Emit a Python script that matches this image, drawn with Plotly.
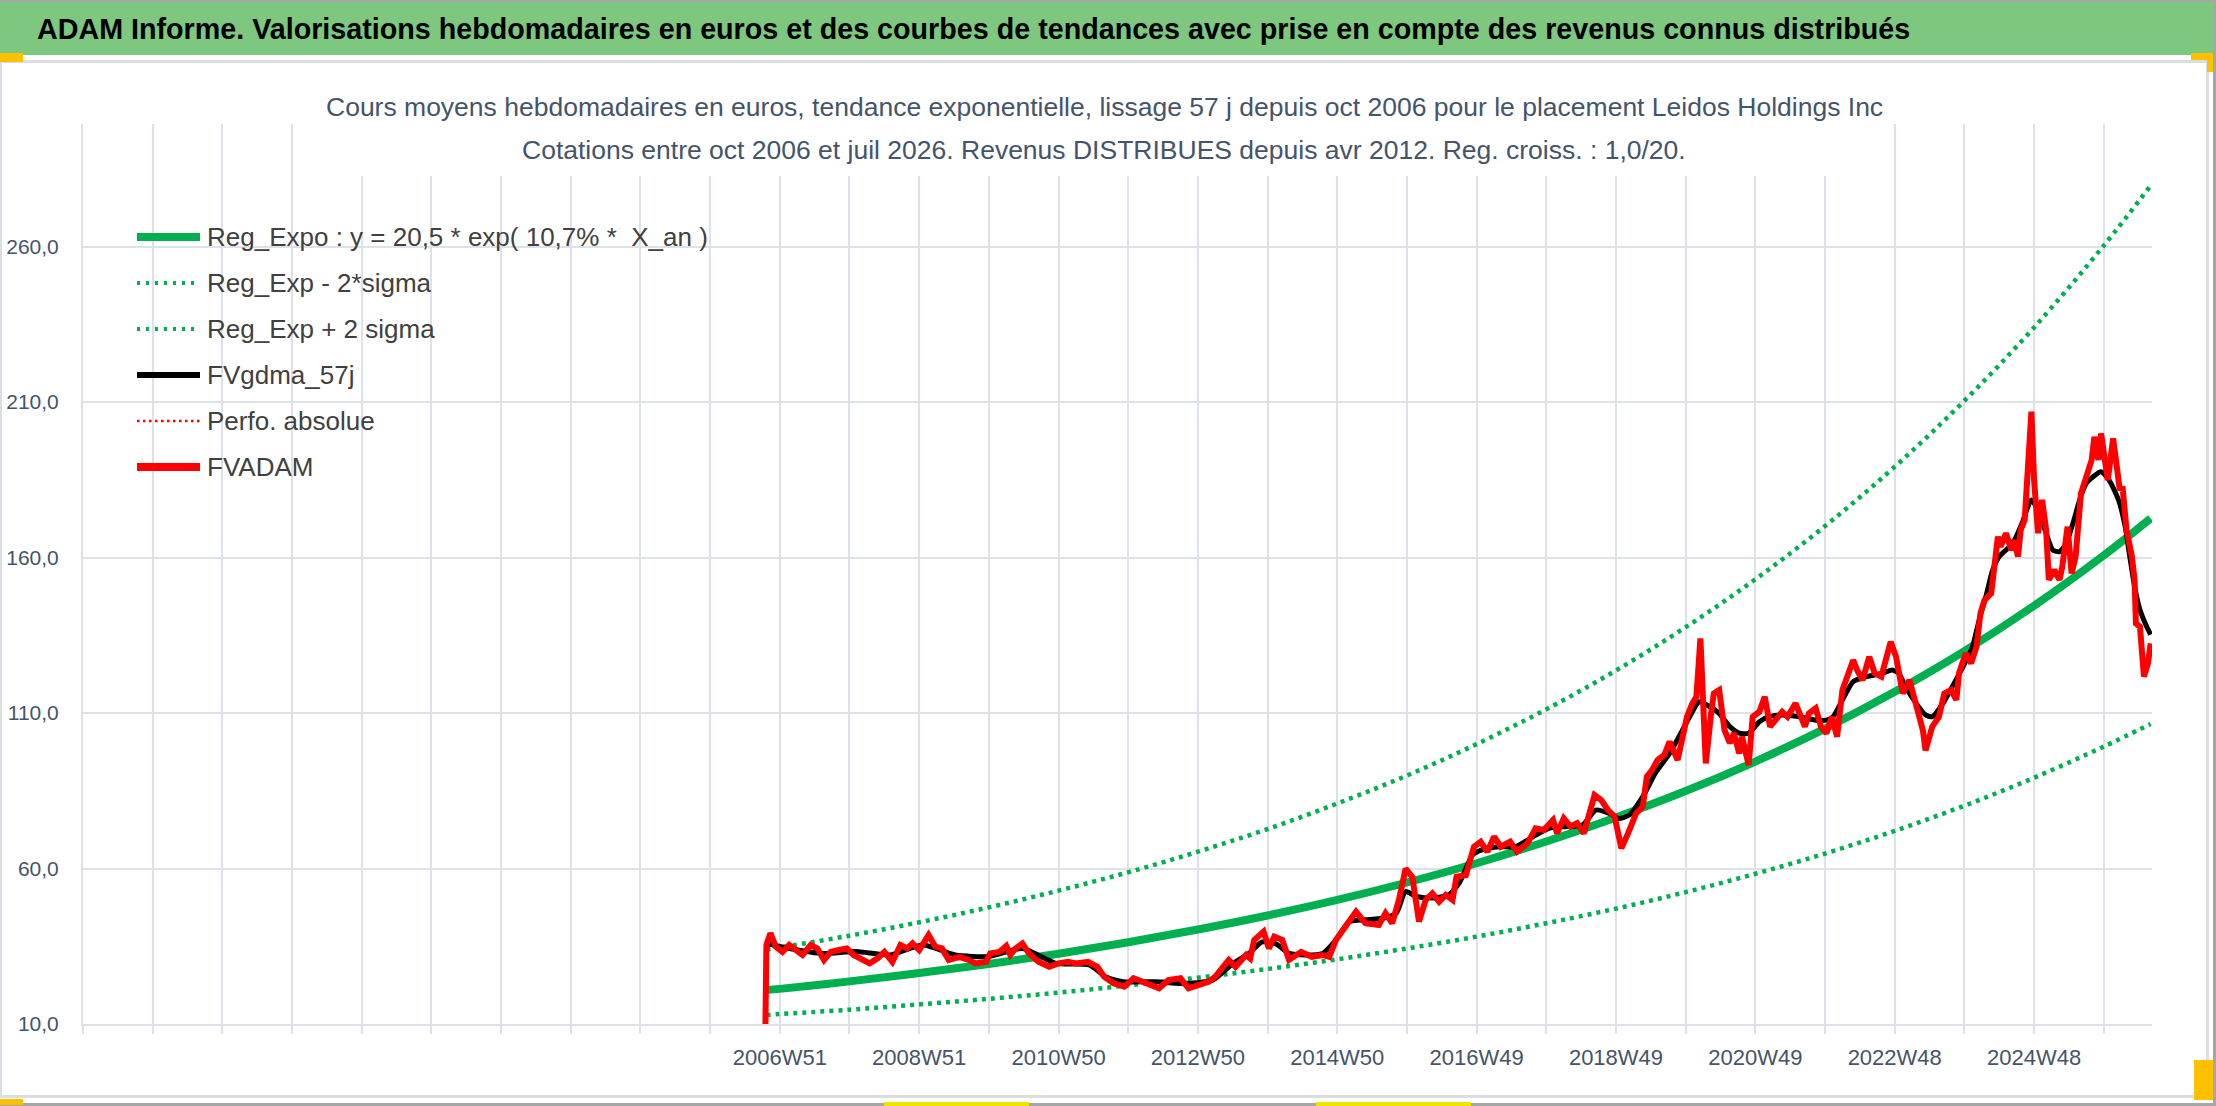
import plotly.graph_objects as go

# x axis = week index, 0 is the week labelled 2006W51 (one gridline every 52 weeks)
x_tick_labels = ["2006W51", "2008W51", "2010W50", "2012W50", "2014W50",
                 "2016W49", "2018W49", "2020W49", "2022W48", "2024W48"]

# FVADAM (red)
fvadam_weeks = [-11, -10, -7, -3, 2, 7, 12, 17, 23, 28, 33, 38, 44, 50, 55, 60, 67, 73, 78, 84,
                90, 95, 99, 104, 111, 116, 121, 126, 134, 141, 146, 154, 157, 164, 169, 172, 176, 181, 186, 193,
                201, 208, 215, 221, 230, 237, 242, 249, 257, 264, 273, 283, 290, 299, 305, 314, 320, 325, 330, 335,
                340, 348, 351, 354, 361, 365, 369, 375, 380, 389, 397, 405, 410, 415, 422, 430, 437, 447, 452, 457,
                462, 467, 472, 477, 482, 487, 492, 497, 502, 505, 512, 518, 523, 528, 533, 538, 545, 550, 558, 564,
                570, 577, 580, 585, 590, 595, 600, 608, 613, 618, 623, 628, 633, 639, 644, 647, 651, 655, 660, 664,
                670, 674, 677, 681, 684, 687, 691, 695, 697, 701, 705, 709, 712, 716, 718, 723, 726, 731, 735, 739,
                743, 748, 752, 758, 761, 765, 768, 773, 777, 781, 785, 789, 793, 797, 801, 804, 808, 813, 817, 822,
                825, 829, 833, 838, 843, 848, 853, 855, 860, 865, 869, 874, 878, 880, 885, 889, 893, 896, 899, 904,
                906, 909, 911, 915, 919, 921, 924, 926, 929, 931, 934, 936, 939, 942, 945, 947, 951, 955, 957, 961,
                964, 967, 971, 975, 979, 981, 984, 986, 989, 991, 995, 997, 1000, 1002, 1005, 1009, 1011, 1012, 1015, 1018,
                1021, 1023]
fvadam_values = [0.0, 35.4, 39.2, 34.9, 33.2, 35.4, 33.8, 32.2, 35.4, 34.3, 30.6, 33.2, 33.8, 34.3, 32.2, 31.1, 29.5, 31.1, 33.2, 30.0,
                 35.4, 34.3, 35.9, 33.8, 38.6, 34.9, 34.3, 30.6, 31.6, 30.6, 29.5, 30.0, 32.7, 33.2, 35.1, 32.2, 34.3, 35.9, 32.7, 30.0,
                 28.4, 29.5, 30.0, 29.5, 30.0, 28.4, 25.2, 23.1, 22.0, 24.7, 23.1, 21.5, 24.1, 24.7, 21.5, 22.5, 23.6, 25.2, 27.9, 30.6,
                 28.4, 32.2, 31.1, 37.0, 39.7, 34.3, 38.1, 37.0, 30.6, 33.2, 31.6, 32.2, 31.6, 37.0, 41.3, 46.1, 42.4, 41.8, 45.6, 42.4,
                 49.9, 60.0, 57.3, 42.9, 49.9, 52.0, 49.3, 51.5, 49.9, 57.3, 57.9, 67.0, 68.6, 65.4, 70.2, 67.0, 68.6, 65.4, 68.1, 72.9,
                 72.4, 75.6, 71.3, 76.1, 73.5, 74.6, 71.3, 83.6, 82.0, 78.8, 76.7, 66.5, 71.3, 77.7, 79.9, 89.5, 91.7, 94.9, 96.5, 100.8,
                 94.9, 103.5, 108.8, 113.1, 115.2, 134.0, 93.8, 109.9, 116.3, 117.4, 104.5, 100.3, 103.5, 97.0, 102.4, 93.3, 108.8, 110.4, 115.2, 105.6,
                 107.7, 110.4, 108.8, 113.1, 109.9, 105.6, 109.9, 111.5, 105.6, 103.5, 108.8, 102.4, 117.4, 122.8, 127.0, 123.8, 120.6, 128.1, 122.8, 121.7,
                 126.0, 132.9, 128.1, 116.3, 120.6, 112.0, 104.5, 98.0, 105.6, 108.8, 116.3, 117.4, 114.2, 122.8, 129.2, 126.0, 131.3, 142.1, 146.3, 148.5,
                 157.0, 166.7, 163.5, 167.8, 162.4, 165.6, 160.3, 168.8, 172.1, 183.9, 206.9, 184.9, 167.8, 178.5, 168.8, 152.8, 156.0, 152.8, 157.0, 169.9,
                 154.9, 160.3, 180.6, 186.0, 191.4, 198.8, 191.4, 199.9, 192.4, 184.9, 198.3, 190.3, 181.7, 182.8, 168.8, 160.3, 152.8, 138.8, 137.8, 121.7,
                 126.0, 132.4]

# FVgdma_57j (black, smoothed)
gdma_weeks = [-10, 7, 32, 57, 82, 107, 131, 156, 181, 206, 231, 243, 256, 281, 300, 323, 338, 350, 360, 370,
              380, 393, 405, 415, 425, 437, 450, 460, 467, 475, 487, 499, 507, 517, 524, 537, 549, 562, 574, 587,
              599, 609, 619, 626, 634, 644, 654, 664, 679, 686, 694, 701, 709, 716, 723, 731, 738, 748, 761, 773,
              781, 786, 793, 801, 811, 823, 830, 835, 840, 848, 855, 860, 868, 875, 883, 890, 895, 900, 905, 910,
              920, 927, 934, 940, 945, 950, 955, 960, 965, 970, 975, 980, 986, 992, 999, 1004, 1007, 1011, 1015, 1020,
              1023]
gdma_values = [35.9, 34.3, 32.7, 33.3, 32.2, 35.4, 32.2, 31.7, 34.3, 29.5, 29.0, 25.2, 23.6, 23.6, 23.0, 24.1, 29.4, 32.7, 36.4, 35.8,
               32.7, 32.2, 32.7, 37.0, 42.9, 43.5, 44.0, 45.6, 52.6, 51.0, 50.5, 51.5, 55.3, 64.4, 66.0, 67.0, 67.0, 70.2, 72.9, 73.5,
               74.0, 78.8, 77.7, 76.1, 77.2, 83.1, 91.1, 97.0, 108.8, 113.6, 112.0, 109.9, 105.6, 103.5, 103.5, 107.2, 108.8, 109.4, 108.8, 107.7,
               107.7, 108.8, 114.2, 120.1, 121.7, 122.8, 123.8, 122.8, 118.5, 113.1, 109.4, 108.8, 113.1, 118.5, 124.9, 131.3, 139.9, 147.4, 155.9, 160.3,
               164.5, 171.0, 178.5, 174.2, 167.8, 162.4, 161.9, 164.5, 171.0, 178.5, 183.9, 186.0, 187.6, 184.9, 178.5, 169.9, 161.4, 150.7, 143.2, 137.8,
               135.2]

# regression curve and its +/- 2 sigma band, read at each yearly gridline
trend_weeks = [-10, 0, 52, 104, 156, 208, 260, 312, 364, 416, 468, 520, 572, 624, 676, 728, 780, 832, 884, 936, 988, 1023]
reg_expo = [20.9, 21.3, 23.7, 26.4, 29.3, 32.6, 36.3, 40.4, 44.9, 49.9, 55.5, 61.7, 68.7, 76.4, 84.9, 94.4, 105.0, 116.8, 129.9, 144.5, 160.7, 172.6]
reg_minus = [12.9, 13.2, 14.6, 16.3, 18.1, 20.1, 22.4, 24.9, 27.7, 30.8, 34.3, 38.1, 42.4, 47.1, 52.4, 58.3, 64.8, 72.1, 80.2, 89.2, 99.2, 106.5]
reg_plus = [33.9, 34.6, 38.4, 42.7, 47.5, 52.9, 58.8, 65.4, 72.7, 80.9, 89.9, 100.0, 111.2, 123.7, 137.6, 153.0, 170.1, 189.2, 210.4, 234.0, 260.3, 279.6]

legend_names = ["Reg_Expo : y = 20,5 * exp( 10,7% *&nbsp; X_an )", "Reg_Exp - 2*sigma", "Reg_Exp + 2 sigma",
                "FVgdma_57j", "Perfo. absolue", "FVADAM"]

TITLE = "ADAM Informe. Valorisations hebdomadaires en euros et des courbes de tendances avec prise en compte des revenus connus distribués"
SUB1 = "Cours moyens hebdomadaires en euros, tendance exponentielle, lissage 57 j depuis oct 2006 pour le placement Leidos Holdings Inc"
SUB2 = "Cotations entre oct 2006 et juil 2026. Revenus DISTRIBUES depuis avr 2012. Reg. croiss. : 1,0/20."

# page geometry (pixels)
W, H = 2216, 1106
PL, PR, PT, PB = 83, 2152, 124, 1024
FONT = "Liberation Sans, Arial, sans-serif"
GREEN = "#00B050"
GRID = "#DDE1E8"
SLATE = "#44546A"


def px(x):
    return (x - PL) / (PR - PL)


def py(y):
    return (PB - y) / (PB - PT)


def rect(x0, y0, x1, y1, color, layer="above"):
    return dict(type="rect", xref="paper", yref="paper", x0=px(x0), x1=px(x1), y0=py(y0), y1=py(y1),
                fillcolor=color, line=dict(width=0), layer=layer)


fig = go.Figure()

fig.add_trace(go.Scatter(x=trend_weeks, y=reg_expo, mode="lines", line_shape="spline",
                         line=dict(color=GREEN, width=8)))
fig.add_trace(go.Scatter(x=trend_weeks, y=reg_minus, mode="lines", line_shape="spline",
                         line=dict(color=GREEN, width=4.5, dash="4px,5px")))
fig.add_trace(go.Scatter(x=trend_weeks, y=reg_plus, mode="lines", line_shape="spline",
                         line=dict(color=GREEN, width=4.5, dash="4px,5px")))
fig.add_trace(go.Scatter(x=gdma_weeks, y=gdma_values, mode="lines", line_shape="spline",
                         line=dict(color="black", width=5, smoothing=0.6)))
fig.add_trace(go.Scatter(x=fvadam_weeks, y=fvadam_values, mode="lines",
                         line=dict(color="#FF0000", width=6)))

tickvals = list(range(-520, 1024, 52))
ticktext = []
for v in tickvals:
    if v >= 0 and v % 104 == 0 and v // 104 < len(x_tick_labels):
        ticktext.append(x_tick_labels[v // 104])
    else:
        ticktext.append("")

shapes = [
    rect(0, 0, W, 2, "#A6A6A6"),
    rect(0, 2, W, 55, "#7DC87E"),
    rect(0, 60, 2208, 63, "#DADDE2"),
    rect(2206, 60, 2209, 1098, "#DADDE2"),
    rect(0, 1095, 2208, 1098, "#DADDE2"),
    rect(0, 60, 2, 1098, "#DADDE2"),
    rect(2213, 0, W, H, "#A6A6A6"),
    rect(0, 1103, W, H, "#A6A6A6"),
    rect(0, 53, 23, 62, "#FFC000"),
    rect(2191, 53, 2213, 60, "#FFC000"),
    rect(2207, 53, 2213, 72, "#FFC000"),
    rect(0, 1099, 23, 1105, "#FFC000"),
    rect(884, 1102, 1029, 1106, "#F2E200"),
    rect(1316, 1102, 1471, 1106, "#F2E200"),
    rect(2194, 1060, 2213, 1100, "#FFC000"),
    # white box behind the chart title (hides the gridlines there)
    rect(318, PT - 2, 1890, 176, "white"),
]

# legend drawn by hand so the sample lines and spacing follow the original
legend_styles = [
    dict(color=GREEN, width=8, dash="solid"),
    dict(color=GREEN, width=4, dash="3px,6px"),
    dict(color=GREEN, width=4, dash="3px,6px"),
    dict(color="black", width=6, dash="solid"),
    dict(color="#FF0000", width=2.5, dash="2.5px,3.5px"),
    dict(color="#FF0000", width=8, dash="solid"),
]
annotations = []
for i, (name, style) in enumerate(zip(legend_names, legend_styles)):
    yc = 237 + 46 * i
    shapes.append(dict(type="line", xref="paper", yref="paper", x0=px(137), x1=px(200), y0=py(yc), y1=py(yc),
                       line=style, layer="above"))
    annotations.append(dict(xref="paper", yref="paper", x=px(205), y=py(yc), text=name, showarrow=False,
                            xanchor="left", yanchor="middle", font=dict(family=FONT, size=26, color="#404040")))

annotations.append(dict(xref="paper", yref="paper", x=px(35), y=py(29), text="<b>" + TITLE + "</b>",
                        showarrow=False, xanchor="left", yanchor="middle",
                        font=dict(family=FONT, size=28.7, color="black")))
annotations.append(dict(xref="paper", yref="paper", x=px(1104), y=py(107), text=SUB1, showarrow=False,
                        xanchor="center", yanchor="middle", font=dict(family=FONT, size=26.5, color=SLATE)))
annotations.append(dict(xref="paper", yref="paper", x=px(1104), y=py(150), text=SUB2, showarrow=False,
                        xanchor="center", yanchor="middle", font=dict(family=FONT, size=26.5, color=SLATE)))

fig.update_layout(
    template="none",
    width=W, height=H, autosize=False,
    margin=dict(l=PL, r=W - PR, t=PT, b=H - PB, pad=0),
    paper_bgcolor="white", plot_bgcolor="white",
    showlegend=False,
    separators=", ",
    shapes=shapes,
    annotations=annotations,
    xaxis=dict(range=[-520, 1024], tickmode="array", tickvals=tickvals, ticktext=ticktext,
               showgrid=True, gridcolor=GRID, gridwidth=2, zeroline=False,
               showline=True, linecolor=GRID, linewidth=2,
               ticks="outside", ticklen=8, tickcolor=GRID, tickwidth=2,
               tickfont=dict(family=FONT, size=22, color=SLATE), ticklabelstandoff=5,
               automargin=False),
    yaxis=dict(range=[10, 299.4], tick0=10, dtick=50, tickformat=".1f",
               showgrid=True, gridcolor=GRID, gridwidth=2, zeroline=False,
               showline=True, linecolor=GRID, linewidth=2, ticks="",
               tickfont=dict(family=FONT, size=21, color=SLATE), ticklabelstandoff=18,
               automargin=False),
)

# drop the default page margin so the figure sits at the window's top-left corner
fig.write_html("out.html", config={"displayModeBar": False},
               post_script="document.body.style.margin='0';document.body.style.overflow='hidden';")
